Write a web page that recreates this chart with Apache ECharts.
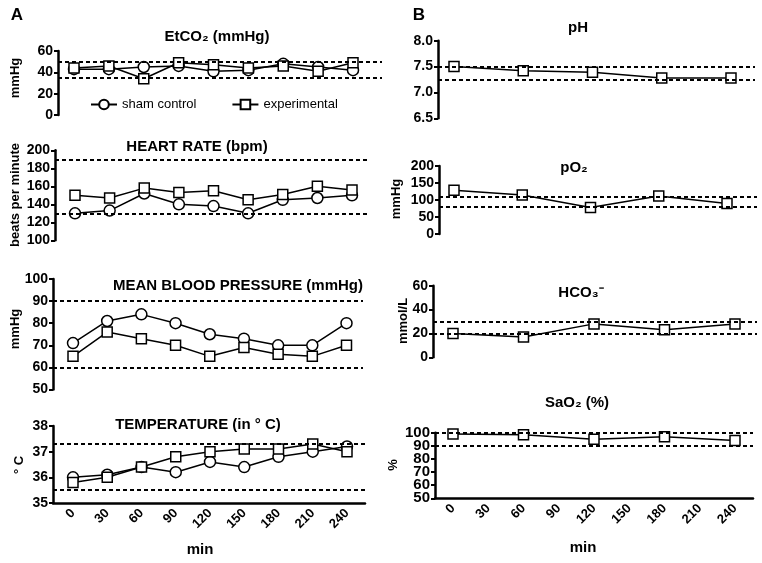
<!DOCTYPE html>
<html><head><meta charset="utf-8">
<script src="https://cdn.jsdelivr.net/npm/echarts@6/dist/echarts.min.js"></script>
<style>html,body{margin:0;padding:0;background:#fff}#c{width:762px;height:563px}</style>
</head><body><div id="c"></div>
<script>
// ---- data ----
const timeA = [0, 30, 60, 90, 120, 150, 180, 210, 240];
const timeB = [0, 60, 120, 180, 240];
const xTickLabels = [0, 30, 60, 90, 120, 150, 180, 210, 240];

const etco2Sham = [43, 43, 45, 46, 41, 42, 48, 45, 42];
const etco2Exp  = [44, 46, 34, 49, 47, 44, 46, 41, 49];
const etco2Ref  = [35, 50];

const hrSham = [130, 133, 152, 140, 138, 130, 145, 147, 150];
const hrExp  = [150, 147, 158, 153, 155, 145, 151, 160, 156];
const hrRef  = [130, 190];

const mbpSham = [71, 81, 84, 80, 75, 73, 70, 70, 80];
const mbpExp  = [65, 76, 73, 70, 65, 69, 66, 65, 70];
const mbpRef  = [60, 90];

const tempSham = [36.0, 36.1, 36.4, 36.2, 36.6, 36.4, 36.8, 37.0, 37.2];
const tempExp  = [35.8, 36.0, 36.4, 36.8, 37.0, 37.1, 37.1, 37.3, 37.0];
const tempRef  = [35.5, 37.3];

const phExp   = [7.50, 7.42, 7.39, 7.28, 7.28];
const phRef   = [7.25, 7.5];
const po2Exp  = [129, 115, 78, 112, 90];
const po2Ref  = [80, 110];
const hco3Exp = [20, 17, 28, 23, 28];
const hco3Ref = [20, 30];
const sao2Exp = [99, 98.5, 95, 97, 94];
const sao2Ref = [90, 100];
const sao2TicksA = [50, 70, 90];
const sao2TicksB = [60, 80, 100];

// ---- layout ----
const FONT = '"Liberation Sans", Arial, sans-serif';
const panels = [
  {L:58, R:382, top:51, bot:115, p0:74, p240:353, ymin:0, ymax:60, yint:20, ref:etco2Ref, times:timeA,
   series:[[etco2Sham,'circle','sham control'],[etco2Exp,'rect','experimental']], showX:false},
  {L:55, R:370, top:150.3, bot:240.3, p0:75, p240:352, ymin:100, ymax:200, yint:20, ref:hrRef, times:timeA,
   series:[[hrSham,'circle','sham control'],[hrExp,'rect','experimental']], showX:false},
  {L:53, R:363, top:279, bot:389.5, p0:73, p240:346.5, ymin:50, ymax:100, yint:10, ref:mbpRef, times:timeA,
   series:[[mbpSham,'circle','sham control'],[mbpExp,'rect','experimental']], showX:false},
  {L:53, R:365, top:426, bot:503, p0:73, p240:347, ymin:35, ymax:38, yint:1, ref:tempRef, times:timeA,
   series:[[tempSham,'circle','sham control'],[tempExp,'rect','experimental']], showX:true},
  {L:438, R:755, top:40.7, bot:118.3, p0:454, p240:731, ymin:6.5, ymax:8.0, yint:0.5, ref:phRef, times:timeB,
   series:[[phExp,'rect','experimental']], showX:false, dec:1},
  {L:439, R:757, top:166, bot:234, p0:454, p240:727, ymin:0, ymax:200, yint:50, ref:po2Ref, times:timeB,
   series:[[po2Exp,'rect','experimental']], showX:false},
  {L:433, R:757, top:285.7, bot:357.3, p0:453, p240:735, ymin:0, ymax:60, yint:20, ref:hco3Ref, times:timeB,
   series:[[hco3Exp,'rect','experimental']], showX:false},
  {L:435, R:753, top:432.7, bot:498.3, p0:453, p240:735, ymin:50, ymax:100, yint:10, ref:sao2Ref, times:timeB,
   series:[[sao2Exp,'rect','experimental']], showX:true, big:true, split:[sao2TicksA, sao2TicksB]}
];

const grid = [], xAxis = [], yAxis = [], series = [], extraY = [];
panels.forEach((p, i) => {
  const s = (p.p240 - p.p0) / 240;
  const xmin = -(p.p0 - p.L) / s;
  const xmax = 240 + (p.R - p.p240) / s;
  grid.push({left:p.L, top:p.top, width:p.R - p.L, height:p.bot - p.top, outerBoundsMode:'none'});
  xAxis.push({
    type:'value', gridIndex:i, min:xmin, max:xmax, show:p.showX,
    splitLine:{show:false},
    axisLine:{show:true, onZero:false, lineStyle:{color:'#000', width:2.5}},
    axisTick:{show:false},
    axisLabel:{show:p.showX, customValues:xTickLabels, rotate:45, margin:8,
      color:'#000', fontWeight:'bold', fontSize:13, fontFamily:FONT}
  });
  const lbl = () => ({color:'#000', fontWeight:'bold', fontSize:p.big ? 15 : 14, fontFamily:FONT, margin:5,
      showMinLabel:true, showMaxLabel:true, hideOverlap:false,
      formatter: v => p.dec ? v.toFixed(p.dec) : String(v)});
  const yA = {
    type:'value', gridIndex:i, min:p.ymin, max:p.ymax, interval:p.yint,
    splitLine:{show:false},
    axisLine:{show:true, onZero:false, lineStyle:{color:'#000', width:2.5}},
    axisTick:{show:true, length:4, lineStyle:{color:'#000', width:2}},
    axisLabel:lbl()
  };
  if (p.split) {
    yA.axisLabel.customValues = p.split[0];
    const lb = lbl(); lb.customValues = p.split[1];
    extraY.push({
      type:'value', gridIndex:i, min:p.ymin, max:p.ymax, interval:p.yint, position:'left',
      splitLine:{show:false}, axisLine:{show:false, onZero:false}, axisTick:{show:false},
      axisLabel:lb
    });
  }
  yAxis.push(yA);
  p.series.forEach((sd, k) => {
    const ser = {
      type:'line', name:sd[2], xAxisIndex:i, yAxisIndex:i,
      data:p.times.map((t, j) => [t, sd[0][j]]),
      symbol:sd[1], symbolSize:sd[1] === 'rect' ? 10 : 11,
      showAllSymbol:true,
      lineStyle:{color:'#000', width:1.5},
      itemStyle:{color:'#fff', borderColor:'#000', borderWidth:1.5},
      emphasis:{disabled:true},
      z: 3 + k
    };
    if (k === 0) {
      ser.markLine = {
        silent:true, symbol:'none', animation:false,
        label:{show:false},
        lineStyle:{color:'#000', type:[4, 3], width:2},
        data:p.ref.map(v => ({yAxis:v}))
      };
    }
    series.push(ser);
  });
});
extraY.forEach(a => yAxis.push(a));

function txt(x, y, text, size, opts) {
  opts = opts || {};
  return {
    type:'text', x:x, y:y, rotation:opts.rot || 0, z:10,
    style:{text:text, fill:'#000', font:(opts.w || 'bold') + ' ' + size + 'px ' + FONT,
      textAlign:'center', textVerticalAlign:'middle', verticalAlign:'middle'}
  };
}
const R90 = Math.PI / 2;
const graphic = [
  txt(17, 15, 'A', 17),
  txt(419, 15, 'B', 17),
  txt(217, 37, 'EtCO\u2082 (mmHg)', 15),
  txt(197, 147, 'HEART RATE (bpm)', 15),
  txt(238, 286, 'MEAN BLOOD PRESSURE (mmHg)', 15),
  txt(198, 425, 'TEMPERATURE (in \u00b0 C)', 15),
  txt(578, 28, 'pH', 15),
  txt(574, 168, 'pO\u2082', 15),
  txt(581, 293, 'HCO\u2083\u207b', 15),
  txt(577, 403, 'SaO\u2082 (%)', 15),
  txt(15, 78, 'mmHg', 13, {rot:R90}),
  txt(15, 195, 'beats per minute', 13, {rot:R90}),
  txt(15, 329, 'mmHg', 13, {rot:R90}),
  txt(19, 465, '\u00b0 C', 13, {rot:R90}),
  txt(396, 199, 'mmHg', 13, {rot:R90}),
  txt(403, 321, 'mmol/L', 13, {rot:R90}),
  txt(393, 465, '%', 13, {rot:R90}),
  txt(200, 550, 'min', 15),
  txt(583, 548, 'min', 15)
];

const chart = echarts.init(document.getElementById('c'), null, {renderer:'canvas'});
chart.setOption({
  animation:false,
  backgroundColor:'#fff',
  grid:grid, xAxis:xAxis, yAxis:yAxis, series:series, graphic:graphic,
  legend:{
    data:['sham control', 'experimental'],
    left:90, top:98, padding:0, itemWidth:26, itemHeight:12, itemGap:35,
    selectedMode:false,
    textStyle:{color:'#000', fontSize:13, fontFamily:FONT}
  }
});
</script>
</body></html>
